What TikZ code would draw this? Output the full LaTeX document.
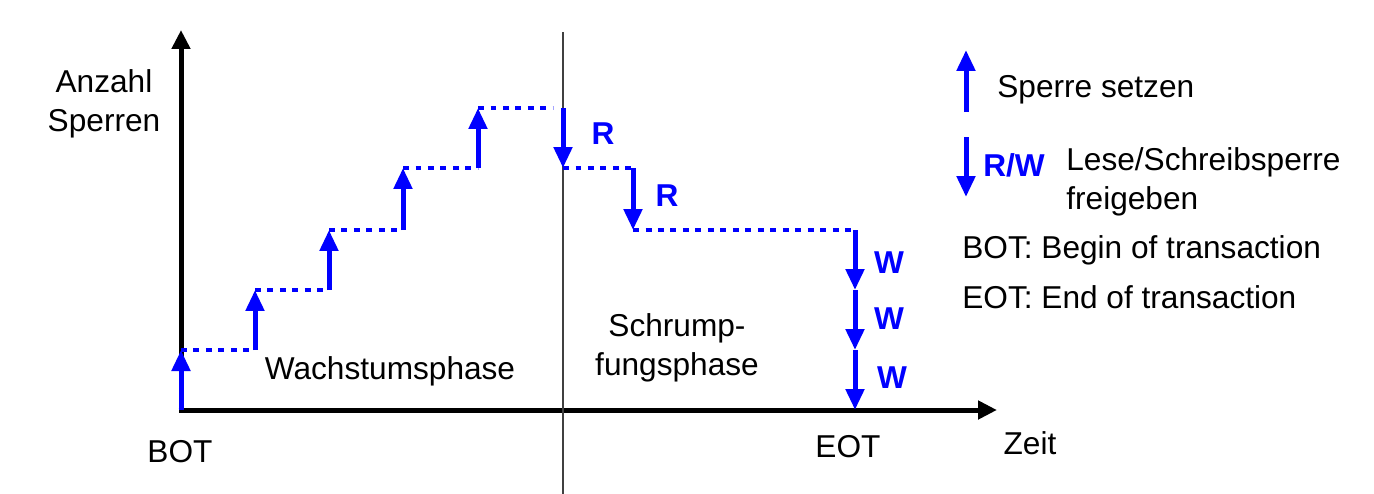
\documentclass[tikz,border=0pt]{standalone}
\usepackage{fontspec}
\setmainfont{Liberation Sans}
\usetikzlibrary{positioning,arrows.meta}

\begin{document}
\begin{tikzpicture}[x=0.02cm, y=-0.02cm,
  font=\fontsize{18}{22}\selectfont,
  axis/.style={line width=0.1cm, -{Triangle[width=0.36cm,length=0.38cm]}},
  lockarrow/.style={blue, line width=0.1cm, -{Triangle[width=0.36cm,length=0.42cm]}},
  level/.style={blue, line width=0.09cm, dash pattern=on 0.12cm off 0.13cm},
  oplabel/.style={blue, font=\fontsize{18}{22}\selectfont\bfseries, inner sep=0pt},
  txt/.style={inner sep=0pt, align=center}]

  \useasboundingbox (0,0) rectangle (1374,494);

  % axes
  \coordinate (origin) at (181,410);
  \coordinate (ytop) at (181,30);
  \coordinate (xend) at (997,410);
  \draw[axis] ([yshift=0.05cm]origin) -- (ytop);
  \draw[axis] ([xshift=-0.05cm]origin) -- (xend);

  % phase border
  \coordinate (ptop) at (563,32);
  \coordinate (pbot) at (563,494);
  \draw[black!75, line width=0.03cm] (ptop) -- (pbot);

  % growing phase
  \coordinate (a1) at (181,350);
  \coordinate (b1) at (255,350);
  \coordinate (a2) at (255,290);
  \coordinate (b2) at (329,290);
  \coordinate (a3) at (329,230);
  \coordinate (b3) at (403,230);
  \coordinate (a4) at (403,168);
  \coordinate (b4) at (478,168);
  \coordinate (a5) at (478,108);
  \coordinate (b5) at (553,108);

  \draw[lockarrow] (origin) -- (a1);
  \draw[lockarrow] (b1) -- (a2);
  \draw[lockarrow] (b2) -- (a3);
  \draw[lockarrow] (b3) -- (a4);
  \draw[lockarrow] (b4) -- (a5);
  \foreach \i in {1,...,5}
    \draw[level] (a\i) -- (b\i);

  % shrinking phase
  \coordinate (c1) at (563,108);
  \coordinate (c2) at (563,168);
  \coordinate (d1) at (633,168);
  \coordinate (d2) at (633,230);
  \coordinate (e1) at (855,230);
  \coordinate (e2) at (855,290);
  \coordinate (e3) at (855,350);
  \coordinate (e4) at (855,410);

  \draw[lockarrow] (c1) -- (c2);
  \draw[level] (c2) -- (d1);
  \draw[lockarrow] (d1) -- (d2);
  \draw[level] (d2) -- (e1);
  \draw[lockarrow] (e1) -- (e2);
  \draw[lockarrow] (e2) -- (e3);
  \draw[lockarrow] (e3) -- (e4);

  \node[oplabel] (r1) at (603,134) {R};
  \node[oplabel] (r2) at (667,196) {R};
  \node[oplabel] (w1) at (889,263) {W};
  \node[oplabel] (w2) at (889,319) {W};
  \node[oplabel] (w3) at (892,378) {W};

  % labels
  \node[txt] (ylabel) at (104,104) {Anzahl\\Sperren};
  \node[txt] (bot) at (180,452) {BOT};
  \node[txt] (eot) at (848,447) {EOT};
  \node[txt] (zeit) at (1030,443) {Zeit};
  \node[txt] (grow) at (390,371) {Wachstumsphase};
  \node[txt] (shrink) at (677,348) {Schrump-\\fungsphase};

  % legend
  \coordinate (lu1) at (966,112);
  \coordinate (lu2) at (966,50);
  \coordinate (ld1) at (966,137);
  \coordinate (ld2) at (966,197);
  \draw[lockarrow] (lu1) -- (lu2);
  \draw[lockarrow] (ld1) -- (ld2);
  \node[txt, anchor=west] (setzen) at (997,90) {Sperre setzen};
  \node[oplabel] (rw) at (1014,165) {R/W};
  \node[txt, anchor=west, align=left] (frei) at (1066,182) {Lese/Schreibsperre\\freigeben};
  \node[txt, anchor=west] (botdef) at (962,250) {BOT: Begin of transaction};
  \node[txt, anchor=west] (eotdef) at (962,297) {EOT: End of transaction};
\end{tikzpicture}
\end{document}
